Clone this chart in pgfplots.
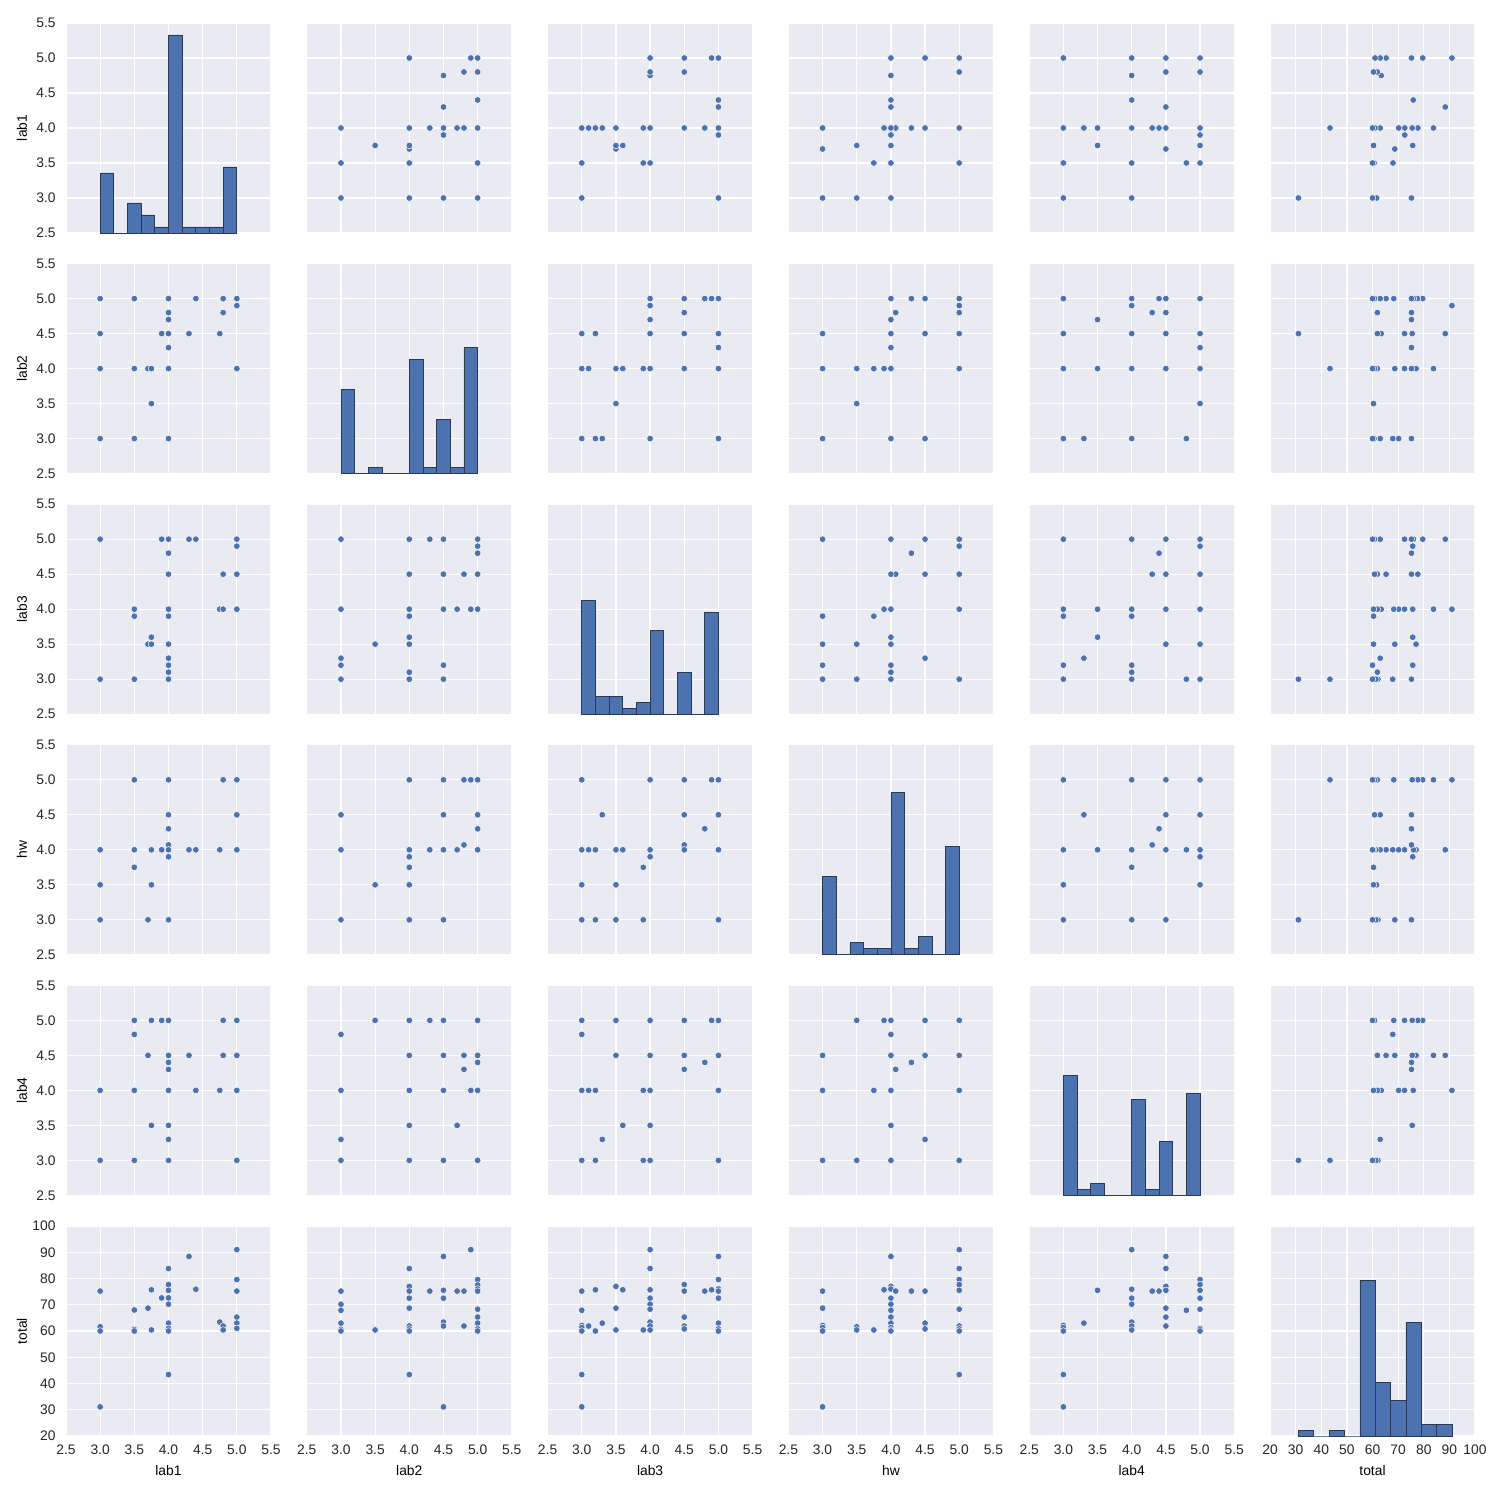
\documentclass[border=0pt]{standalone}
\usepackage{fontspec}
\setmainfont{Liberation Sans}
\usepackage{pgfplots}
\usepackage{pgfplotstable}
\pgfplotsset{compat=1.18}
\definecolor{bgc}{HTML}{EAEAF2}
\definecolor{dotc}{HTML}{4C72B0}
\definecolor{txtc}{HTML}{262626}
\definecolor{edgec}{HTML}{2A3A55}

% pair tables: column a = first variable, column b = second variable
\pgfplotstableread{
a b
3.0 5.0
3.5 5.0
4.0 5.0
4.4 5.0
4.8 5.0
5.0 5.0
5.0 4.9
4.0 4.8
4.8 4.8
4.0 4.7
3.0 4.5
3.9 4.5
4.0 4.5
4.3 4.5
4.75 4.5
4.0 4.3
3.0 4.0
3.5 4.0
3.7 4.0
3.75 4.0
4.0 4.0
5.0 4.0
3.75 3.5
3.0 3.0
3.5 3.0
4.0 3.0
}\Tab
\pgfplotstableread{
a b
3.0 5.0
3.9 5.0
4.0 5.0
4.3 5.0
4.4 5.0
5.0 5.0
5.0 4.9
4.0 4.8
4.0 4.5
4.8 4.5
5.0 4.5
3.5 4.0
3.5 3.9
4.0 4.0
4.0 3.9
4.75 4.0
4.8 4.0
5.0 4.0
3.75 3.6
3.7 3.5
3.75 3.5
4.0 3.5
4.0 3.3
4.0 3.2
4.0 3.1
3.0 3.0
3.5 3.0
4.0 3.0
}\Tac
\pgfplotstableread{
a b
3.0 5.0
4.0 5.0
4.3 5.0
4.5 5.0
5.0 5.0
5.0 4.9
5.0 4.8
4.0 4.5
4.5 4.5
4.8 4.5
5.0 4.5
3.0 4.0
4.0 4.0
4.0 3.9
4.5 4.0
4.7 4.0
4.9 4.0
5.0 4.0
3.5 3.5
4.0 3.6
4.0 3.5
3.0 3.3
3.0 3.2
4.5 3.2
4.0 3.1
3.0 3.0
4.0 3.0
4.5 3.0
}\Tbc
\pgfplotstableread{
a b
3.5 5.0
4.0 5.0
4.8 5.0
5.0 5.0
4.0 4.5
5.0 4.5
4.0 4.3
4.0 4.07
3.0 4.0
3.5 4.0
3.75 4.0
3.9 4.0
4.0 4.0
4.3 4.0
4.4 4.0
4.75 4.0
5.0 4.0
4.0 3.9
3.5 3.75
3.0 3.5
3.75 3.5
3.0 3.0
3.7 3.0
4.0 3.0
}\Tad
\pgfplotstableread{
a b
4.0 5.0
4.5 5.0
4.8 5.0
4.9 5.0
5.0 5.0
3.0 4.5
4.5 4.5
5.0 4.5
5.0 4.3
4.8 4.07
3.0 4.0
4.0 4.0
4.3 4.0
4.5 4.0
4.7 4.0
5.0 4.0
4.0 3.9
4.0 3.75
3.5 3.5
4.0 3.5
3.0 3.0
4.0 3.0
4.5 3.0
}\Tbd
\pgfplotstableread{
a b
3.0 5.0
4.0 5.0
4.5 5.0
4.9 5.0
5.0 5.0
3.3 4.5
4.5 4.5
5.0 4.5
4.8 4.3
4.5 4.07
3.0 4.0
3.1 4.0
3.2 4.0
3.5 4.0
3.6 4.0
4.0 4.0
4.5 4.0
5.0 4.0
4.0 3.9
3.9 3.75
3.0 3.5
3.5 3.5
3.0 3.0
3.2 3.0
3.5 3.0
3.9 3.0
5.0 3.0
}\Tcd
\pgfplotstableread{
a b
3.5 5.0
3.75 5.0
3.9 5.0
4.0 5.0
4.8 5.0
5.0 5.0
3.5 4.8
3.7 4.5
4.0 4.5
4.3 4.5
4.8 4.5
5.0 4.5
4.0 4.4
4.0 4.3
3.0 4.0
3.5 4.0
4.0 4.0
4.4 4.0
4.75 4.0
5.0 4.0
3.75 3.5
4.0 3.5
4.0 3.3
3.0 3.0
3.5 3.0
4.0 3.0
5.0 3.0
}\Tae
\pgfplotstableread{
a b
3.5 5.0
4.0 5.0
4.3 5.0
4.5 5.0
5.0 5.0
3.0 4.8
4.0 4.5
4.5 4.5
4.8 4.5
5.0 4.5
5.0 4.4
4.8 4.3
3.0 4.0
4.0 4.0
4.5 4.0
4.9 4.0
5.0 4.0
4.0 3.5
4.7 3.5
3.0 3.3
3.0 3.0
4.0 3.0
4.5 3.0
5.0 3.0
}\Tbe
\pgfplotstableread{
a b
3.0 5.0
3.5 5.0
4.0 5.0
4.5 5.0
4.9 5.0
5.0 5.0
3.0 4.8
3.5 4.5
4.0 4.5
4.5 4.5
5.0 4.5
4.8 4.4
4.5 4.3
3.0 4.0
3.1 4.0
3.2 4.0
3.9 4.0
4.0 4.0
5.0 4.0
3.6 3.5
4.0 3.5
3.3 3.3
3.0 3.0
3.2 3.0
3.9 3.0
4.0 3.0
5.0 3.0
}\Tce
\pgfplotstableread{
a b
3.5 5.0
3.9 5.0
4.0 5.0
4.5 5.0
5.0 5.0
4.0 4.8
3.0 4.5
4.0 4.5
4.5 4.5
5.0 4.5
4.3 4.4
4.07 4.3
3.0 4.0
3.75 4.0
4.0 4.0
5.0 4.0
4.0 3.5
4.5 3.3
3.0 3.0
3.5 3.0
4.0 3.0
5.0 3.0
}\Tde
\pgfplotstableread{
a b
3.0 75.2
3.0 61.6
3.0 60.0
3.0 31.1
3.5 68.0
3.5 60.6
3.5 60.0
3.7 68.7
3.75 75.7
3.75 60.4
3.9 72.6
4.0 83.8
4.0 77.7
4.0 75.5
4.0 72.6
4.0 70.2
4.0 63.0
4.0 61.0
4.0 60.0
4.0 43.4
4.3 88.4
4.4 75.9
4.75 63.4
4.8 61.9
4.8 60.4
5.0 91.0
5.0 79.6
5.0 75.2
5.0 65.3
5.0 63.0
5.0 61.0
}\Taf
\pgfplotstableread{
a b
3.0 75.2
3.0 70.2
3.0 67.9
3.0 63.0
3.0 60.6
3.0 60.0
3.5 60.4
4.0 83.8
4.0 77.0
4.0 75.2
4.0 72.5
4.0 68.7
4.0 61.9
4.0 60.8
4.0 60.0
4.0 43.4
4.3 75.2
4.5 88.4
4.5 75.5
4.5 72.5
4.5 63.4
4.5 61.9
4.5 31.1
4.7 75.2
4.8 75.2
4.8 61.9
4.9 91.0
5.0 79.6
5.0 77.5
5.0 76.0
5.0 75.2
5.0 68.3
5.0 65.3
5.0 63.0
5.0 60.8
5.0 60.0
}\Tbf
\pgfplotstableread{
a b
3.0 75.2
3.0 67.9
3.0 62.1
3.0 61.3
3.0 60.0
3.0 43.4
3.0 31.1
3.1 61.9
3.2 75.7
3.2 60.0
3.3 63.0
3.5 77.0
3.5 68.7
3.5 60.4
3.6 75.7
3.9 60.4
4.0 91.0
4.0 83.8
4.0 75.7
4.0 72.5
4.0 70.2
4.0 68.3
4.0 63.4
4.0 61.9
4.0 60.4
4.5 77.7
4.5 75.2
4.5 65.3
4.5 61.9
4.5 60.8
4.8 75.2
4.9 75.7
5.0 88.4
5.0 79.6
5.0 76.0
5.0 75.2
5.0 72.5
5.0 63.0
5.0 60.8
5.0 60.0
}\Tcf
\pgfplotstableread{
a b
3.0 75.2
3.0 68.7
3.0 62.1
3.0 61.3
3.0 60.0
3.0 31.1
3.5 61.6
3.5 60.4
3.75 60.4
3.9 75.7
4.0 88.4
4.0 77.0
4.0 76.0
4.0 72.5
4.0 70.2
4.0 67.9
4.0 65.3
4.0 63.0
4.0 61.3
4.0 60.4
4.0 60.0
4.07 75.2
4.3 75.2
4.5 75.2
4.5 63.0
4.5 60.8
5.0 91.0
5.0 83.8
5.0 79.6
5.0 77.7
5.0 75.5
5.0 68.3
5.0 61.9
5.0 60.8
5.0 60.0
5.0 43.4
}\Tdf
\pgfplotstableread{
a b
3.0 62.1
3.0 61.3
3.0 60.0
3.0 43.4
3.0 31.1
3.3 63.0
3.5 75.5
4.0 91.0
4.0 75.9
4.0 72.5
4.0 70.2
4.0 63.4
4.0 61.9
4.0 60.4
4.3 75.2
4.4 75.2
4.5 88.4
4.5 83.8
4.5 77.0
4.5 75.5
4.5 68.7
4.5 65.3
4.5 61.9
4.8 67.9
5.0 79.6
5.0 77.7
5.0 75.5
5.0 72.5
5.0 68.3
5.0 60.8
5.0 60.0
}\Tef

\pgfplotsset{
 pp/.style={scale only axis, width=2.05in, height=2.10in, anchor=south west,
   axis background/.style={fill=bgc}, axis line style={draw=none},
   grid=major, major grid style={white, line width=0.9pt},
   major tick length=0pt,
   xticklabels={}, yticklabels={},
   tick label style={font=\fontsize{10}{12}\selectfont, text=txtc},
   label style={font=\fontsize{11}{13}\selectfont, text=txtc},
   every axis x label/.style={at={(axis description cs:0.5,-0.165)}, anchor=center},
   every axis y label/.style={at={(axis description cs:-0.215,0.5)}, rotate=90, anchor=center},
   xticklabel style={yshift=-3pt}, yticklabel style={xshift=-4pt}},
 lx/.style={xmin=2.5,xmax=5.5,xtick={2.5,3.0,3.5,4.0,4.5,5.0,5.5}},
 ly/.style={ymin=2.5,ymax=5.5,ytick={2.5,3.0,3.5,4.0,4.5,5.0,5.5}},
 tx/.style={xmin=20,xmax=100,xtick={20,30,40,50,60,70,80,90,100}},
 ty/.style={ymin=20,ymax=100,ytick={20,30,40,50,60,70,80,90,100}},
 lxl/.style={xticklabels={2.5,3.0,3.5,4.0,4.5,5.0,5.5}, xlabel={#1}},
 lyl/.style={yticklabels={2.5,3.0,3.5,4.0,4.5,5.0,5.5}, ylabel={#1}},
 txl/.style={xticklabels={20,30,40,50,60,70,80,90,100}, xlabel={total}},
 tyl/.style={yticklabels={20,30,40,50,60,70,80,90,100}, ylabel={total}},
 dots/.style={only marks, mark=*, mark size=2.4pt, mark options={fill=dotc, draw=white, line width=0.35pt}},
 hh/.style={scale only axis, width=2.05in, height=2.10in, anchor=south west, hide axis, ymin=0, ymax=35, clip=false},
 hb/.style={ybar interval, fill=dotc, draw=edgec, line width=0.5pt},
}
\def\Xa{0.66in}\def\Xb{3.068in}\def\Xc{5.476in}\def\Xd{7.884in}\def\Xe{10.292in}\def\Xf{12.70in}
\def\Ya{12.67in}\def\Yb{10.264in}\def\Yc{7.858in}\def\Yd{5.452in}\def\Ye{3.046in}\def\Yf{0.64in}

\begin{document}
\begin{tikzpicture}
\useasboundingbox (0,0) rectangle (15in,15in);
% ---------- row 1: lab1
\begin{axis}[pp,lx,ly,lyl=lab1,at={(\Xa,\Ya)}]\end{axis}
\begin{axis}[hh,lx,at={(\Xa,\Ya)}]
\addplot[hb] coordinates {(3.0,10)(3.2,0)(3.4,5)(3.6,3)(3.8,1)(4.0,33)(4.2,1)(4.4,1)(4.6,1)(4.8,11)(5.0,0)};
\end{axis}
\begin{axis}[pp,lx,ly,at={(\Xb,\Ya)}]\addplot[dots] table[x=b,y=a]{\Tab};\end{axis}
\begin{axis}[pp,lx,ly,at={(\Xc,\Ya)}]\addplot[dots] table[x=b,y=a]{\Tac};\end{axis}
\begin{axis}[pp,lx,ly,at={(\Xd,\Ya)}]\addplot[dots] table[x=b,y=a]{\Tad};\end{axis}
\begin{axis}[pp,lx,ly,at={(\Xe,\Ya)}]\addplot[dots] table[x=b,y=a]{\Tae};\end{axis}
\begin{axis}[pp,tx,ly,at={(\Xf,\Ya)}]\addplot[dots] table[x=b,y=a]{\Taf};\end{axis}
% ---------- row 2: lab2
\begin{axis}[pp,lx,ly,lyl=lab2,at={(\Xa,\Yb)}]\addplot[dots] table[x=a,y=b]{\Tab};\end{axis}
\begin{axis}[pp,lx,ly,at={(\Xb,\Yb)}]\end{axis}
\begin{axis}[hh,lx,at={(\Xb,\Yb)}]
\addplot[hb] coordinates {(3.0,14)(3.2,0)(3.4,1)(3.6,0)(3.8,0)(4.0,19)(4.2,1)(4.4,9)(4.6,1)(4.8,21)(5.0,0)};
\end{axis}
\begin{axis}[pp,lx,ly,at={(\Xc,\Yb)}]\addplot[dots] table[x=b,y=a]{\Tbc};\end{axis}
\begin{axis}[pp,lx,ly,at={(\Xd,\Yb)}]\addplot[dots] table[x=b,y=a]{\Tbd};\end{axis}
\begin{axis}[pp,lx,ly,at={(\Xe,\Yb)}]\addplot[dots] table[x=b,y=a]{\Tbe};\end{axis}
\begin{axis}[pp,tx,ly,at={(\Xf,\Yb)}]\addplot[dots] table[x=b,y=a]{\Tbf};\end{axis}
% ---------- row 3: lab3
\begin{axis}[pp,lx,ly,lyl=lab3,at={(\Xa,\Yc)}]\addplot[dots] table[x=a,y=b]{\Tac};\end{axis}
\begin{axis}[pp,lx,ly,at={(\Xb,\Yc)}]\addplot[dots] table[x=a,y=b]{\Tbc};\end{axis}
\begin{axis}[pp,lx,ly,at={(\Xc,\Yc)}]\end{axis}
\begin{axis}[hh,lx,at={(\Xc,\Yc)}]
\addplot[hb] coordinates {(3.0,19)(3.2,3)(3.4,3)(3.6,1)(3.8,2)(4.0,14)(4.2,0)(4.4,7)(4.6,0)(4.8,17)(5.0,0)};
\end{axis}
\begin{axis}[pp,lx,ly,at={(\Xd,\Yc)}]\addplot[dots] table[x=b,y=a]{\Tcd};\end{axis}
\begin{axis}[pp,lx,ly,at={(\Xe,\Yc)}]\addplot[dots] table[x=b,y=a]{\Tce};\end{axis}
\begin{axis}[pp,tx,ly,at={(\Xf,\Yc)}]\addplot[dots] table[x=b,y=a]{\Tcf};\end{axis}
% ---------- row 4: hw
\begin{axis}[pp,lx,ly,lyl=hw,at={(\Xa,\Yd)}]\addplot[dots] table[x=a,y=b]{\Tad};\end{axis}
\begin{axis}[pp,lx,ly,at={(\Xb,\Yd)}]\addplot[dots] table[x=a,y=b]{\Tbd};\end{axis}
\begin{axis}[pp,lx,ly,at={(\Xc,\Yd)}]\addplot[dots] table[x=a,y=b]{\Tcd};\end{axis}
\begin{axis}[pp,lx,ly,at={(\Xd,\Yd)}]\end{axis}
\begin{axis}[hh,lx,at={(\Xd,\Yd)}]
\addplot[hb] coordinates {(3.0,13)(3.2,0)(3.4,2)(3.6,1)(3.8,1)(4.0,27)(4.2,1)(4.4,3)(4.6,0)(4.8,18)(5.0,0)};
\end{axis}
\begin{axis}[pp,lx,ly,at={(\Xe,\Yd)}]\addplot[dots] table[x=b,y=a]{\Tde};\end{axis}
\begin{axis}[pp,tx,ly,at={(\Xf,\Yd)}]\addplot[dots] table[x=b,y=a]{\Tdf};\end{axis}
% ---------- row 5: lab4
\begin{axis}[pp,lx,ly,lyl=lab4,at={(\Xa,\Ye)}]\addplot[dots] table[x=a,y=b]{\Tae};\end{axis}
\begin{axis}[pp,lx,ly,at={(\Xb,\Ye)}]\addplot[dots] table[x=a,y=b]{\Tbe};\end{axis}
\begin{axis}[pp,lx,ly,at={(\Xc,\Ye)}]\addplot[dots] table[x=a,y=b]{\Tce};\end{axis}
\begin{axis}[pp,lx,ly,at={(\Xd,\Ye)}]\addplot[dots] table[x=a,y=b]{\Tde};\end{axis}
\begin{axis}[pp,lx,ly,at={(\Xe,\Ye)}]\end{axis}
\begin{axis}[hh,lx,at={(\Xe,\Ye)}]
\addplot[hb] coordinates {(3.0,20)(3.2,1)(3.4,2)(3.6,0)(3.8,0)(4.0,16)(4.2,1)(4.4,9)(4.6,0)(4.8,17)(5.0,0)};
\end{axis}
\begin{axis}[pp,tx,ly,at={(\Xf,\Ye)}]\addplot[dots] table[x=b,y=a]{\Tef};\end{axis}
% ---------- row 6: total
\begin{axis}[pp,lx,ty,tyl,lxl=lab1,at={(\Xa,\Yf)}]\addplot[dots] table[x=a,y=b]{\Taf};\end{axis}
\begin{axis}[pp,lx,ty,lxl=lab2,at={(\Xb,\Yf)}]\addplot[dots] table[x=a,y=b]{\Tbf};\end{axis}
\begin{axis}[pp,lx,ty,lxl=lab3,at={(\Xc,\Yf)}]\addplot[dots] table[x=a,y=b]{\Tcf};\end{axis}
\begin{axis}[pp,lx,ty,lxl=hw,at={(\Xd,\Yf)}]\addplot[dots] table[x=a,y=b]{\Tdf};\end{axis}
\begin{axis}[pp,lx,ty,lxl=lab4,at={(\Xe,\Yf)}]\addplot[dots] table[x=a,y=b]{\Tef};\end{axis}
\begin{axis}[pp,tx,ty,txl,at={(\Xf,\Yf)}]\end{axis}
\begin{axis}[hh,tx,at={(\Xf,\Yf)}]
\addplot[hb] coordinates {(31.1,1)(37.09,0)(43.08,1)(49.07,0)(55.06,26)(61.05,9)(67.04,6)(73.03,19)(79.02,2)(85.01,2)(91.0,0)};
\end{axis}
\end{tikzpicture}
\end{document}
